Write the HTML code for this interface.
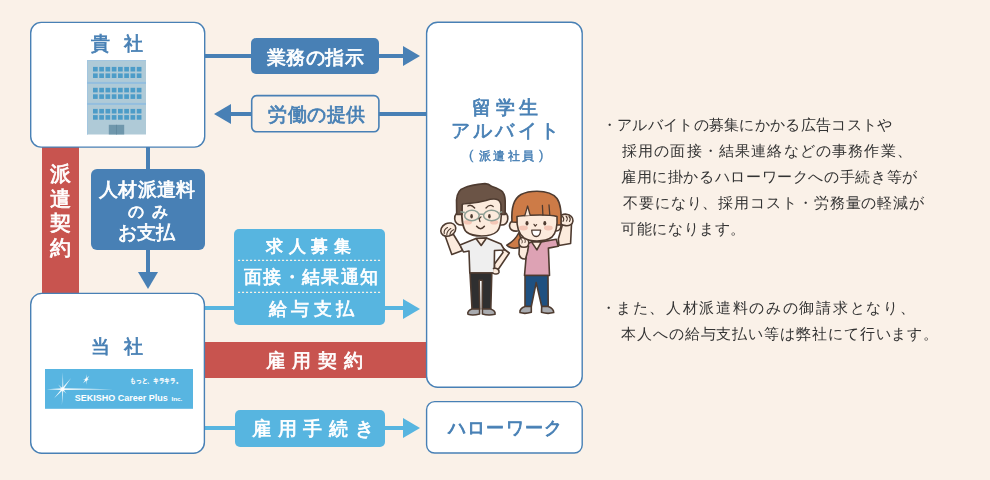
<!DOCTYPE html>
<html lang="ja">
<head>
<meta charset="utf-8">
<style>
html,body{margin:0;padding:0;}
body{width:990px;height:480px;background:#FAF1E8;position:relative;overflow:hidden;font-family:"Liberation Sans",sans-serif;}
.a{position:absolute;box-sizing:border-box;}
.box{background:#fff;border:1.5px solid #4880B5;border-radius:11px;}
.dk{background:#4880B5;}
.lt{background:#57B5E0;}
.rd{background:#C8544F;}
.t{position:absolute;white-space:nowrap;line-height:1;will-change:transform;}
.w{color:#fff;}
.b{color:#4880B5;}
.g{color:#333333;}
.tri{position:absolute;width:0;height:0;}
</style>
</head>
<body>
<!-- bars -->
<div class="a rd" style="left:42px;top:146px;width:37px;height:148px;"></div>
<div class="a rd" style="left:204px;top:342px;width:223px;height:36px;"></div>

<!-- lines -->
<div class="a dk" style="left:204px;top:54px;width:200px;height:4px;"></div>
<div class="a dk" style="left:230px;top:112px;width:197px;height:4px;"></div>
<div class="a dk" style="left:146px;top:147px;width:4px;height:126px;"></div>
<div class="a lt" style="left:204px;top:306px;width:200px;height:4px;"></div>
<div class="a lt" style="left:204px;top:426px;width:200px;height:4px;"></div>

<!-- arrowheads -->
<div class="tri" style="left:403px;top:46px;border-left:17.5px solid #4880B5;border-top:10px solid transparent;border-bottom:10px solid transparent;"></div>
<div class="tri" style="left:214px;top:104px;border-right:17px solid #4880B5;border-top:10px solid transparent;border-bottom:10px solid transparent;"></div>
<div class="tri" style="left:138px;top:272px;border-top:17px solid #4880B5;border-left:10px solid transparent;border-right:10px solid transparent;"></div>
<div class="tri" style="left:403px;top:299px;border-left:17px solid #57B5E0;border-top:10px solid transparent;border-bottom:10px solid transparent;"></div>
<div class="tri" style="left:403px;top:418px;border-left:17px solid #57B5E0;border-top:10px solid transparent;border-bottom:10px solid transparent;"></div>

<!-- boxes -->
<svg class="a" style="left:0;top:0" width="990" height="480">
<g fill="#fff" stroke="#4880B5" stroke-width="1.4">
<rect x="30.7" y="22.4" width="174" height="124.7" rx="10.5"/>
<rect x="30.7" y="293.4" width="173.7" height="159.8" rx="11"/>
<rect x="426.6" y="22.3" width="155.6" height="365" rx="11"/>
<rect x="426.6" y="401.6" width="155.6" height="51.4" rx="8"/>
</g>
</svg>

<div class="a dk" style="left:251px;top:38px;width:128px;height:36px;border-radius:5px;"></div>
<svg class="a" style="left:245px;top:90px" width="140" height="48" viewBox="245 90 140 48"><rect x="251.7" y="95.6" width="127.2" height="36.2" rx="5" fill="#FAF1E8" stroke="#4880B5" stroke-width="1.6"/></svg>
<div class="a dk" style="left:91px;top:169px;width:114px;height:81px;border-radius:6px;"></div>
<div class="a lt" style="left:234px;top:229px;width:151px;height:96px;border-radius:5px;"></div>
<div class="a lt" style="left:235px;top:410px;width:150px;height:37px;border-radius:5px;"></div>

<!-- icons -->
<svg class="a" style="left:87px;top:60px" width="59" height="75" viewBox="0 0 59 75">
<rect x="0" y="0" width="59" height="74.5" fill="#AFCAD7"/>
<rect x="0" y="0" width="59" height="1" fill="#A3C6DF"/>
<rect x="0" y="0" width="1" height="74.5" fill="#A3C6DF"/>
<rect x="0" y="21.9" width="59" height="2" fill="#93BEDF"/>
<rect x="0" y="42.9" width="59" height="2" fill="#93BEDF"/>
<g fill="#4C9CC8"><rect x="6.00" y="6.9" width="4.7" height="4.6"/><rect x="12.25" y="6.9" width="4.7" height="4.6"/><rect x="18.50" y="6.9" width="4.7" height="4.6"/><rect x="24.75" y="6.9" width="4.7" height="4.6"/><rect x="31.00" y="6.9" width="4.7" height="4.6"/><rect x="37.25" y="6.9" width="4.7" height="4.6"/><rect x="43.50" y="6.9" width="4.7" height="4.6"/><rect x="49.75" y="6.9" width="4.7" height="4.6"/><rect x="6.00" y="13.4" width="4.7" height="4.6"/><rect x="12.25" y="13.4" width="4.7" height="4.6"/><rect x="18.50" y="13.4" width="4.7" height="4.6"/><rect x="24.75" y="13.4" width="4.7" height="4.6"/><rect x="31.00" y="13.4" width="4.7" height="4.6"/><rect x="37.25" y="13.4" width="4.7" height="4.6"/><rect x="43.50" y="13.4" width="4.7" height="4.6"/><rect x="49.75" y="13.4" width="4.7" height="4.6"/><rect x="6.00" y="27.8" width="4.7" height="4.6"/><rect x="12.25" y="27.8" width="4.7" height="4.6"/><rect x="18.50" y="27.8" width="4.7" height="4.6"/><rect x="24.75" y="27.8" width="4.7" height="4.6"/><rect x="31.00" y="27.8" width="4.7" height="4.6"/><rect x="37.25" y="27.8" width="4.7" height="4.6"/><rect x="43.50" y="27.8" width="4.7" height="4.6"/><rect x="49.75" y="27.8" width="4.7" height="4.6"/><rect x="6.00" y="34.3" width="4.7" height="4.6"/><rect x="12.25" y="34.3" width="4.7" height="4.6"/><rect x="18.50" y="34.3" width="4.7" height="4.6"/><rect x="24.75" y="34.3" width="4.7" height="4.6"/><rect x="31.00" y="34.3" width="4.7" height="4.6"/><rect x="37.25" y="34.3" width="4.7" height="4.6"/><rect x="43.50" y="34.3" width="4.7" height="4.6"/><rect x="49.75" y="34.3" width="4.7" height="4.6"/><rect x="6.00" y="48.9" width="4.7" height="4.6"/><rect x="12.25" y="48.9" width="4.7" height="4.6"/><rect x="18.50" y="48.9" width="4.7" height="4.6"/><rect x="24.75" y="48.9" width="4.7" height="4.6"/><rect x="31.00" y="48.9" width="4.7" height="4.6"/><rect x="37.25" y="48.9" width="4.7" height="4.6"/><rect x="43.50" y="48.9" width="4.7" height="4.6"/><rect x="49.75" y="48.9" width="4.7" height="4.6"/><rect x="6.00" y="55.1" width="4.7" height="4.6"/><rect x="12.25" y="55.1" width="4.7" height="4.6"/><rect x="18.50" y="55.1" width="4.7" height="4.6"/><rect x="24.75" y="55.1" width="4.7" height="4.6"/><rect x="31.00" y="55.1" width="4.7" height="4.6"/><rect x="37.25" y="55.1" width="4.7" height="4.6"/><rect x="43.50" y="55.1" width="4.7" height="4.6"/><rect x="49.75" y="55.1" width="4.7" height="4.6"/></g>
<rect x="21.8" y="64.8" width="15.4" height="9.7" fill="#6F97AC"/>
<rect x="29" y="64.8" width="0.8" height="9.7" fill="#5F889E"/>
</svg>
<svg class="a" style="left:44.5px;top:368.8px" width="148.5" height="39.8" viewBox="44.5 368.8 148.5 39.8">
<rect x="44.5" y="368.8" width="148.5" height="39.8" fill="#58B5E1"/>
<g fill="#fff">
<path d="M46.3,389 L62,388.1 L112.7,389.1 L62,389.9 Z" opacity="0.95"/>
<path d="M62.3,372 L62.9,389 L61.4,404.5 L61.7,389 Z" opacity="0.85"/>
<path d="M70.6,377.9 L62.6,389.6 L53.6,398.1 L61.4,388.4 Z" opacity="0.9"/>
<path d="M57.7,384.3 L62.5,388.5 L66,393.5 L61.5,389.5 Z" opacity="0.85"/>
<path d="M85.9,373.8 L86.2,379.3 L85.6,384.5 L85.3,379.3 Z"/>
<path d="M88.9,375.6 L86.3,379.8 L82.6,383 L85.2,378.8 Z"/>
<path d="M82.2,379.2 L85.8,378.9 L89,379.6 L85.8,379.8 Z" opacity="0.8"/>
</g>
<circle cx="62" cy="389" r="2.2" fill="#fff" opacity="0.55"/>
<circle cx="62" cy="389" r="1.1" fill="#fff"/>
<circle cx="85.8" cy="379.3" r="1.5" fill="#fff" opacity="0.6"/>
<text x="74.2" y="401" font-family="Liberation Sans, sans-serif" font-weight="700" font-size="8.3" fill="#fff" textLength="93" lengthAdjust="spacingAndGlyphs">SEKISHO Career Plus</text>
<text x="170.9" y="401" font-family="Liberation Sans, sans-serif" font-weight="700" font-size="5.5" fill="#fff" textLength="11" lengthAdjust="spacingAndGlyphs">Inc.</text>
<text x="129.6" y="383.3" font-family="Liberation Sans, sans-serif" font-size="6.6" fill="#fff" stroke="#fff" stroke-width="0.35" textLength="51.4" lengthAdjust="spacingAndGlyphs">もっと、キラキラ。</text>
</svg>
<svg class="a" style="left:234px;top:229px" width="151" height="96" viewBox="234 229 151 96">
<g stroke="#F6F0E4" stroke-width="1.3" stroke-dasharray="2.1 1.9">
<line x1="238" y1="260.3" x2="381" y2="260.3"/>
<line x1="238" y1="292.4" x2="381" y2="292.4"/>
</g></svg>

<!-- illus -->
<svg class="a" style="left:430px;top:175px" width="150" height="145" viewBox="430 175 150 145">
<g stroke="#4E3B30" stroke-width="1.6" stroke-linejoin="round" stroke-linecap="round">
<!-- MAN -->
<!-- raised arm -->
<path d="M445,235.5 L451.8,254.5 L462.5,250.5 L460.5,246 L453.5,234.5 Z" fill="#FCEBDD"/>
<!-- fist -->
<ellipse cx="448.3" cy="229.6" rx="7.8" ry="6.3" transform="rotate(-28 448.3 229.6)" fill="#FCEBDD"/>
<path d="M444.2,233.5 C443.8,231 445.5,228.5 447.5,227.5 M446.8,235 C446.5,232.5 448.5,229.5 450.8,228.5 M450,235 C449.8,233 451.5,230.5 453.5,229.8" fill="none" stroke-width="1.1"/>
<!-- hip arm -->
<path d="M500.5,246.5 L509.3,253 L498.5,269 L494.5,269.5 L494.5,264 L503,252.5 Z" fill="#FCEBDD"/>
<!-- shirt -->
<path d="M476,238.5 L460,245 L463.5,252 L469,251 L469.8,273 L494.2,273 L494.5,250.5 L504.5,250 L501,244 L486.5,238 Z" fill="#EFEFEF"/>
<path d="M476,238.5 L481.2,245.5 L486.5,238 Z" fill="#FCEBDD"/>
<!-- hand on hip -->
<path d="M493.5,268.5 C497,267.5 499.5,270 499,272.5 C498,274.5 494.5,274.5 493,273" fill="#FCEBDD"/>
<!-- pants -->
<path d="M470,273 L491.8,273 L490.8,309 L482.2,309 L482.4,280.3 L479.2,280.3 L479.8,309 L472,309 Z" fill="#2F2F30"/>
<!-- shoes -->
<path d="M472,309 L479.6,309 L479.6,314 C475,315.2 471,315.2 468,314.3 C467,312 469,310 472,309 Z" fill="#A9ABAF"/>
<path d="M482.4,309 L490.6,309 C493.5,310 495.5,312 495,314.3 C491,315.2 486.5,315.2 482.4,314 Z" fill="#A9ABAF"/>
<!-- ears -->
<path d="M462,212.5 C457,211 454.5,214.5 454.7,219 C455,223 458,225.5 462.5,225" fill="#FCEBDD"/>
<path d="M501,212.5 C506,211 508,214.5 507.8,219 C507.5,223 505,225.5 500.5,225" fill="#FCEBDD"/>
<!-- face -->
<path d="M462,197 C461,218 462,228 466.5,232 C471,235.5 476,236 481.5,236 C487,236 493,235 497,231.5 C501,228 502.2,218 501.2,197 Z" fill="#FCEBDD"/>
<!-- hair -->
<path d="M456.7,214.5 L456.5,200 C457,193 460,189 464,187.9 C469,185.5 476,184.4 485,183.6 C488,183.8 490,185 491.6,186.3 C495,187.5 500,189 502.6,191.9 C504.5,194.5 505.2,198 505.2,201 L505.2,214.5 L501,214.5 L501,205 C500.5,202 498.5,199.5 496,199.2 C493,198.8 490,199.2 486,200.5 C480,202.2 474,203.2 468,203.5 C465,203.6 463,203.8 462.2,204.5 L462,214.5 Z" fill="#6B5446"/>
</g>
<!-- man face details -->
<g fill="#F4C6B6">
<ellipse cx="467.9" cy="222.3" rx="4" ry="2.3"/>
<ellipse cx="494.1" cy="222.3" rx="4" ry="2.3"/>
</g>
<g fill="none" stroke="#8E9E93" stroke-width="1.5">
<ellipse cx="471.9" cy="215.5" rx="7.3" ry="5.2"/>
<ellipse cx="491.6" cy="215.5" rx="8" ry="5.2"/>
<path d="M479.2,214.2 L483.6,214.2 M464.8,212.6 L460.4,211.8 M499.5,212.6 L502.2,211.8"/>
</g>
<g fill="#4E3B30">
<ellipse cx="471.6" cy="216.3" rx="1.3" ry="2.3"/>
<ellipse cx="489.4" cy="216.3" rx="1.3" ry="2.3"/>
</g>
<g fill="none" stroke="#4E3B30" stroke-width="1.3" stroke-linecap="round">
<path d="M467.9,206 Q471,203.8 474.7,208"/>
<path d="M486,208 Q489.7,203.8 493.2,206.5"/>
<path d="M481,216.9 L479.1,218.8 L480,221.6"/>
<path d="M476.6,226.3 Q480.7,231 484.4,226.3" stroke-width="1.5"/>
</g>

<g stroke="#4E3B30" stroke-width="1.6" stroke-linejoin="round" stroke-linecap="round">
<!-- WOMAN -->
<!-- ponytail -->
<path d="M519,232.5 C516,238.5 511.5,242.5 506.8,245.2 C510.5,248.8 517,249.3 523,246 Z" fill="#CD7B47"/>
<!-- raised arm -->
<path d="M558.3,239 L562.5,224.5 L571.5,224 L570.6,243.5 L559,245.5 Z" fill="#FCEBDD"/>
<!-- right fist -->
<path d="M559,219.5 C559,215.5 563,213.8 566.5,214.2 C570.5,214.6 573.3,217.5 573,221 C572.6,224.8 569,226 565.5,225.6 C561.5,225.2 559,223.2 559,219.5 Z" fill="#FCEBDD"/>
<path d="M562.5,216.5 C564,218 564,220 563,221.5 M566,216 C567.5,217.5 567.5,219.5 566.5,221 M569,216.5 C570.5,218 570.5,220 569.5,221.5" fill="none" stroke-width="1.1"/>
<!-- shirt -->
<path d="M531.5,241.9 L527,243.7 C525,246.5 523.5,249 522.5,251 L526.2,256 L524.5,275.5 L549.5,275.5 L548.4,248.1 L558.2,246.3 L556.3,239.2 L541.3,241.9 Z" fill="#DDA2B4"/>
<path d="M531.5,241.9 L536.9,249.9 L541.3,241.9 Z" fill="#FCEBDD"/>
<!-- left forearm + fist -->
<path d="M519.5,245 L519,254 C520,258.5 523,259.2 525.5,259 L527.5,252 L528.5,246 Z" fill="#FCEBDD"/>
<path d="M518.8,242 C518.8,238.5 521.5,237.2 524,237.4 C527.2,237.6 529,240 528.8,243 C528.6,246 526.5,247.4 523.8,247.3 C521,247.2 518.8,245.5 518.8,242 Z" fill="#FCEBDD"/>
<path d="M521.5,239.5 C522.5,240.5 522.5,242 522,243 M524.5,239 C525.5,240 525.5,241.5 525,242.5" fill="none" stroke-width="1"/>
<!-- jeans -->
<path d="M525,275.5 L548,275.5 L548.2,306.5 L541.7,306.5 L536.2,282.6 L531.3,306.5 L525,306.5 Z" fill="#1F5080"/>
<!-- shoes -->
<path d="M525,306.5 L531.3,306.5 L531.3,312.3 C527,313.6 523,313.6 520,312.6 C519.5,310 521.5,307.8 525,306.5 Z" fill="#A9ABAF"/>
<path d="M541.7,306.5 L548.2,306.5 C551.5,307.8 553.8,310 553.7,312.6 C550,313.6 545.5,313.6 541.5,312.3 Z" fill="#A9ABAF"/>
<!-- ears -->
<path d="M517,220.5 C512,219.5 509.3,222.5 509.5,226 C509.8,229.5 512.5,231.5 517.5,231" fill="#FCEBDD"/>
<path d="M556.5,220.5 C560,220 561.3,222.5 561,226 C560.7,229 558.5,231 556,231" fill="#FCEBDD"/>
<!-- hair dome -->
<path d="M512,222 C511,208 514,198.5 521,194.5 C527,191.3 532,191.2 537,191.2 C545,191.2 553,193.2 557,198.5 C561,204 561.7,212 561,225 L556,225 L512.5,222 Z" fill="#CD7B47"/>
<!-- face -->
<path d="M517,216.5 C516.5,226 518.5,234 524,238 C528,240.5 533,241 537,241 C542,241 548,240 552,237 C556,233 557.6,226 557,216.5 C550,214.5 540,214.8 530,215.2 C525,215.4 520,215.8 517,216.5 Z" fill="#FCEBDD"/>
<path d="M524.8,215.6 L527.6,206 L530.2,215.4" fill="#FCEBDD" stroke-width="1.3"/>
<path d="M542.4,205.5 L542.9,215 M549,205 L549.8,215.3" fill="none" stroke-width="1.3"/>
<!-- mouth -->
<path d="M531.7,230.2 L540.6,230.2 C540.3,234.5 538.5,236.5 536.2,236.5 C533.6,236.5 531.9,234.5 531.7,230.2 Z" fill="#fff" stroke-width="1.3"/>
</g>
<g fill="#4E3B30">
<ellipse cx="527" cy="223.2" rx="1.5" ry="2.3"/>
<ellipse cx="544.8" cy="223.2" rx="1.5" ry="2.3"/>
</g>
<g fill="#F4C6B6">
<ellipse cx="523.4" cy="228" rx="4.4" ry="2.4"/>
<ellipse cx="548.3" cy="228" rx="4.4" ry="2.4"/>
</g>
<path d="M534,224.3 L535.2,226 L536.6,224.6" fill="none" stroke="#4E3B30" stroke-width="1.2" stroke-linecap="round"/>
</svg>

<!-- /illus -->

<!-- texts -->
<div class="t b" style="left:90.5px;top:34.4px;font-size:19px;letter-spacing:14.4px;-webkit-text-stroke:0.75px currentColor;">貴社</div>
<div class="t b" style="left:91.0px;top:337.2px;font-size:19px;letter-spacing:13.9px;-webkit-text-stroke:0.75px currentColor;">当社</div>
<div class="t w" style="left:266.9px;top:48.6px;font-size:18.5px;letter-spacing:0.48px;-webkit-text-stroke:0.75px currentColor;">業務の指示</div>
<div class="t b" style="left:267.6px;top:106.1px;font-size:18.5px;letter-spacing:0.6px;-webkit-text-stroke:0.75px currentColor;">労働の提供</div>
<div class="t w" style="left:99.2px;top:180.9px;font-size:18.5px;letter-spacing:0.3px;-webkit-text-stroke:0.75px currentColor;">人材派遣料</div>
<div class="t w" style="left:127.7px;top:204.3px;font-size:16px;-webkit-text-stroke:0.75px currentColor;">の</div>
<div class="t w" style="left:152px;top:203.8px;font-size:16px;-webkit-text-stroke:0.75px currentColor;">み</div>
<div class="t w" style="left:118.4px;top:224.4px;font-size:18.5px;letter-spacing:0.1px;-webkit-text-stroke:0.75px currentColor;">お支払</div>
<div class="t b" style="left:471.5px;top:99.2px;font-size:18.5px;letter-spacing:4.5px;-webkit-text-stroke:0.75px currentColor;">留学生</div>
<div class="t b" style="left:451.3px;top:122.2px;font-size:18.5px;letter-spacing:3.17px;-webkit-text-stroke:0.7px currentColor;">アルバイト</div>
<div class="t b" style="left:468.7px;top:147.7px;font-size:13px;-webkit-text-stroke:0.3px currentColor;">(</div>
<div class="t b" style="left:478.7px;top:149.6px;font-size:12px;letter-spacing:2.33px;-webkit-text-stroke:0.45px currentColor;">派遣社員</div>
<div class="t b" style="left:539.2px;top:147.7px;font-size:13px;-webkit-text-stroke:0.3px currentColor;">)</div>
<div class="t w" style="left:266.0px;top:237.8px;font-size:17px;letter-spacing:5.67px;-webkit-text-stroke:0.75px currentColor;">求人募集</div>
<div class="t w" style="left:244.0px;top:268.9px;font-size:17.5px;letter-spacing:1.33px;-webkit-text-stroke:0.75px currentColor;">面接・結果通知</div>
<div class="t w" style="left:269.0px;top:299.5px;font-size:18px;letter-spacing:4.25px;-webkit-text-stroke:0.75px currentColor;">給与支払</div>
<div class="t w" style="left:266.1px;top:350.7px;font-size:19px;letter-spacing:6.87px;-webkit-text-stroke:0.75px currentColor;">雇用契約</div>
<div class="t w" style="left:251.8px;top:419.1px;font-size:19px;letter-spacing:6.67px;-webkit-text-stroke:0.75px currentColor;">雇用手続き</div>
<div class="t b" style="left:448.3px;top:419.1px;font-size:18px;letter-spacing:1.2px;-webkit-text-stroke:0.85px currentColor;">ハローワーク</div>
<div class="t g" style="left:617.3px;top:117.2px;font-size:15px;letter-spacing:0.31px;">アルバイトの募集にかかる広告コストや</div>
<div class="t g" style="left:621.7px;top:142.8px;font-size:15px;letter-spacing:1.16px;">採用の面接・結果連絡などの事務作業、</div>
<div class="t g" style="left:620.7px;top:169.0px;font-size:15px;letter-spacing:0.62px;">雇用に掛かるハローワークへの手続き等が</div>
<div class="t g" style="left:622.6px;top:195.2px;font-size:15px;letter-spacing:0.9px;">不要になり、採用コスト・労務量の軽減が</div>
<div class="t g" style="left:621.3px;top:221.4px;font-size:15px;letter-spacing:0.64px;">可能になります。</div>
<div class="t g" style="left:616.1px;top:299.9px;font-size:15px;letter-spacing:1.68px;">また、人材派遣料のみの御請求となり、</div>
<div class="t g" style="left:621.2px;top:326.1px;font-size:15px;letter-spacing:0.91px;">本人への給与支払い等は弊社にて行います。</div>
<div class="t w" style="left:49.6px;top:161.8px;font-size:21px;line-height:24.5px;white-space:normal;width:22px;-webkit-text-stroke:0.75px currentColor;">派<br>遣<br>契<br>約</div>
<div class="t g" style="left:601.5px;top:117.2px;font-size:15px;">・</div>
<div class="t g" style="left:601.4px;top:299.9px;font-size:15px;">・</div>

</body>
</html>
